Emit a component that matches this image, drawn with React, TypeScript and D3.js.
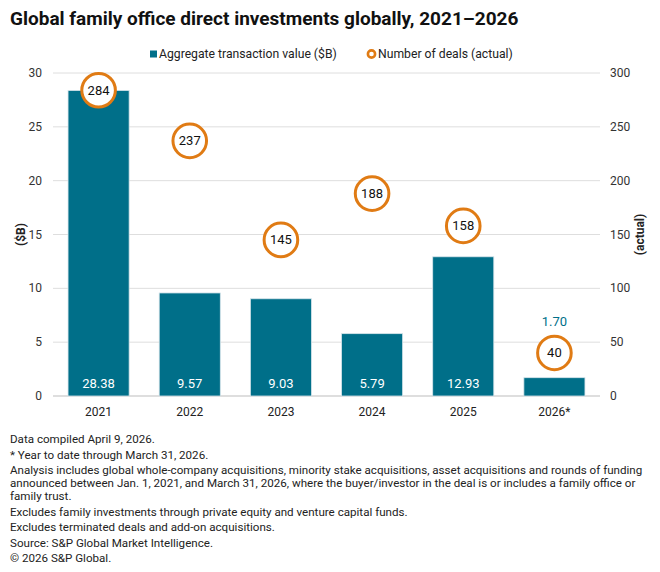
import React, { useEffect } from "react";
import * as d3 from "d3";

const years = ["2021", "2022", "2023", "2024", "2025", "2026*"];
const values = [28.38, 9.57, 9.03, 5.79, 12.93, 1.7];
const deals = [284, 237, 145, 188, 158, 40];
const leftTicks = [0, 5, 10, 15, 20, 25, 30];
const rightTicks = [0, 50, 100, 150, 200, 250, 300];

const notes = [
  ["Data compiled April 9, 2026."],
  ["* Year to date through March 31, 2026."],
  [
    "Analysis includes global whole-company acquisitions, minority stake acquisitions, asset acquisitions and rounds of funding",
    "announced between Jan. 1, 2021, and March 31, 2026, where the buyer/investor in the deal is or includes a family office or",
    "family trust.",
  ],
  ["Excludes family investments through private equity and venture capital funds."],
  ["Excludes terminated deals and add-on acquisitions."],
  ["Source: S&P Global Market Intelligence."],
  ["\u00a9 2026 S&P Global."],
];

const TEAL = "#006f89";
const ORANGE = "#e07b14";
const FONT = "Roboto, 'Noto Sans', sans-serif";

export default function App() {
  useEffect(() => {
    document.body.style.margin = "0";
  }, []);

  const width = 660;
  const height = 572;
  const left = 53;
  const right = 600;
  const top = 73;
  const bottom = 396;

  const x = d3.scaleBand().domain(years).range([left, right]).paddingInner(0.33).paddingOuter(0.165);
  const y = d3.scaleLinear().domain([0, 30]).range([bottom, top]);
  const yR = d3.scaleLinear().domain([0, 300]).range([bottom, top]);

  // footnote line positions
  let ny = 443;
  const noteLines: { text: string; y: number }[] = [];
  notes.forEach((para) => {
    para.forEach((t, i) => {
      if (i > 0) ny += 13;
      noteLines.push({ text: t, y: ny });
    });
    ny += 15.5;
  });

  return (
    <svg width={width} height={height} style={{ display: "block", fontFamily: FONT }}>
      <rect width={width} height={height} fill="#fff" />
      <text x={10} y={25} fontSize={19} fontWeight={700} fill="#111">
        Global family office direct investments globally, 2021–2026
      </text>

      {/* legend */}
      <rect x={150} y={50.5} width={7} height={7} fill={TEAL} />
      <text x={159} y={58} fontSize={12.2} fill="#222">Aggregate transaction value ($B)</text>
      <circle cx={371.5} cy={54} r={3.6} fill="#fff" stroke={ORANGE} strokeWidth={2.6} />
      <text x={378} y={58} fontSize={12.2} fill="#222">Number of deals (actual)</text>

      {/* grid */}
      {leftTicks.map((t) => (
        <line key={t} x1={left} x2={right} y1={y(t)} y2={y(t)} stroke={t === 0 ? "#bdbdbd" : "#dedede"} strokeWidth={1} />
      ))}
      {leftTicks.map((t) => (
        <text key={"l" + t} x={42} y={y(t) + 4} fontSize={12} textAnchor="end" fill="#333">
          {t}
        </text>
      ))}
      {rightTicks.map((t) => (
        <text key={"r" + t} x={610} y={yR(t) + 4} fontSize={12} fill="#333">
          {t}
        </text>
      ))}
      <text transform={`translate(25,${(top + bottom) / 2}) rotate(-90)`} fontSize={12} fontWeight={700} textAnchor="middle" fill="#222">
        ($B)
      </text>
      <text transform={`translate(644,${(top + bottom) / 2}) rotate(-90)`} fontSize={12} fontWeight={700} textAnchor="middle" fill="#222">
        (actual)
      </text>

      {/* bars */}
      {years.map((yr, i) => (
        <rect
          key={yr}
          x={x(yr)}
          y={y(values[i])}
          width={x.bandwidth()}
          height={bottom - y(values[i])}
          fill={TEAL}
          stroke="#d6e4ea"
          strokeWidth={0.8}
        />
      ))}
      {years.map((yr, i) => {
        const cx = (x(yr) || 0) + x.bandwidth() / 2;
        const inside = values[i] > 3;
        return (
          <text
            key={"v" + yr}
            x={cx}
            y={inside ? 388 : yR(deals[i]) - 27}
            fontSize={13}
            textAnchor="middle"
            fill={inside ? "#fff" : TEAL}
          >
            {values[i].toFixed(2)}
          </text>
        );
      })}
      {years.map((yr) => (
        <text key={"x" + yr} x={(x(yr) || 0) + x.bandwidth() / 2} y={416} fontSize={12} textAnchor="middle" fill="#222">
          {yr}
        </text>
      ))}

      {/* deals */}
      {years.map((yr, i) => {
        const cx = (x(yr) || 0) + x.bandwidth() / 2;
        return (
          <g key={"d" + yr}>
            <circle cx={cx} cy={yR(deals[i])} r={16.8} fill="#fff" stroke={ORANGE} strokeWidth={3} />
            <text x={cx} y={yR(deals[i]) + 4.5} fontSize={13} textAnchor="middle" fill="#111">
              {deals[i]}
            </text>
          </g>
        );
      })}

      {/* notes */}
      {noteLines.map((l, i) => (
        <text key={"n" + i} x={10} y={l.y} fontSize={11.6} fill="#222">
          {l.text}
        </text>
      ))}
    </svg>
  );
}
